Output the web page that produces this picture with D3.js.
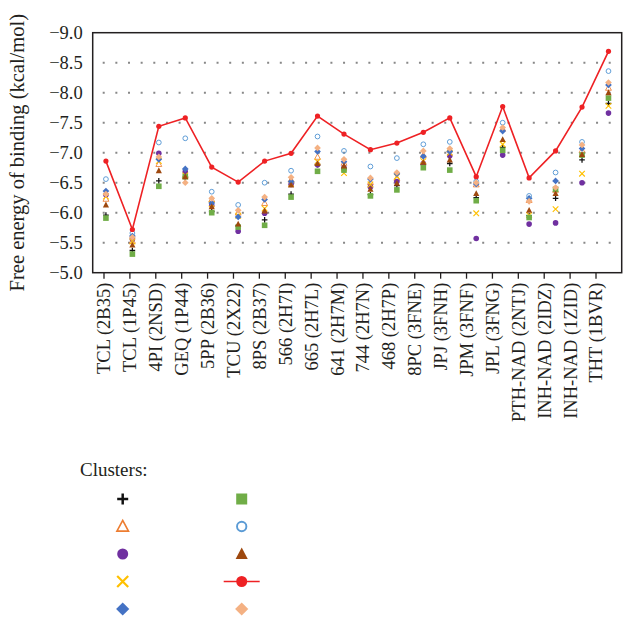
<!DOCTYPE html>
<html><head><meta charset="utf-8">
<script src="https://cdn.jsdelivr.net/npm/d3@7"></script>
<style>body{margin:0;background:#fff}svg{display:block}text{font-family:"Liberation Serif","DejaVu Serif",serif;fill:#231f20}</style>
</head><body><svg id="c" width="628" height="618"></svg>
<script>
const categories = ["TCL (2B35)","TCL (1P45)","4PI (2NSD)","GEQ (1P44)","5PP (2B36)","TCU (2X22)","8PS (2B37)","566 (2H7I)","665 (2H7L)","641 (2H7M)","744 (2H7N)","468 (2H7P)","8PC (3FNE)","JPJ (3FNH)","JPM (3FNF)","JPL (3FNG)","PTH-NAD (2NTJ)","INH-NAD (2IDZ)","INH-NAD (1ZID)","THT (1BVR)"];
const yTicks = [-5.0,-5.5,-6.0,-6.5,-7.0,-7.5,-8.0,-8.5,-9.0];
const plusSeries     = [-5.96,-5.37,-6.53,-6.58,-6.02,-5.78,-5.88,-6.31,-6.80,-6.73,-6.30,-6.45,-6.80,-6.82,-6.25,-7.09,-5.95,-6.24,-6.88,-7.82];
const openTriSeries  = [-6.23,-5.53,-6.81,-6.63,-6.22,-6.00,-6.16,-6.55,-6.93,-6.83,-6.51,-6.58,-6.96,-7.05,-6.47,-7.40,-6.21,-6.38,-7.04,-8.08];
const purpleSeries   = [-6.30,-5.56,-6.99,-6.68,-6.12,-5.69,-5.99,-6.47,-6.80,-6.75,-6.43,-6.52,-6.82,-6.95,-5.57,-6.96,-5.81,-5.83,-6.50,-7.66];
const crossSeries    = [-6.27,-5.52,-6.86,-6.62,-6.14,-5.95,-6.07,-6.48,-6.85,-6.66,-6.47,-6.60,-6.86,-7.00,-5.99,-7.14,-5.96,-6.06,-6.65,-7.78];
const blueDiaSeries  = [-6.36,-5.61,-6.89,-6.73,-6.16,-5.93,-6.22,-6.52,-7.02,-6.85,-6.56,-6.65,-6.94,-7.02,-6.48,-7.36,-6.24,-6.53,-7.07,-8.13];
const squareSeries   = [-5.91,-5.31,-6.44,-6.60,-6.00,-5.76,-5.79,-6.26,-6.69,-6.71,-6.28,-6.38,-6.75,-6.71,-6.20,-7.04,-5.92,-6.39,-6.96,-7.91];
const openCircSeries = [-6.56,-5.66,-7.17,-7.24,-6.35,-6.13,-6.50,-6.70,-7.27,-7.03,-6.77,-6.91,-7.14,-7.18,-6.52,-7.50,-6.28,-6.67,-7.18,-8.36];
const brownTriSeries = [-6.13,-5.46,-6.70,-6.60,-6.10,-5.81,-6.03,-6.46,-6.82,-6.78,-6.39,-6.49,-6.84,-6.88,-6.32,-7.22,-6.04,-6.32,-6.97,-8.00];
const redLineSeries  = [-6.86,-5.72,-7.44,-7.58,-6.76,-6.51,-6.86,-6.99,-7.61,-7.31,-7.05,-7.16,-7.34,-7.58,-6.60,-7.77,-6.58,-7.03,-7.76,-8.69];
const peachSeries    = [-6.31,-5.59,-6.93,-6.50,-6.24,-6.04,-6.26,-6.59,-7.08,-6.89,-6.58,-6.67,-7.03,-7.07,-6.50,-7.42,-6.19,-6.42,-7.13,-8.17];

const series = [
  {name:"plus", values:plusSeries, type:"plus", color:"#111"},
  {name:"openTri", values:openTriSeries, type:"openTri", color:"#ed7d31"},
  {name:"purple", values:purpleSeries, type:"circle", color:"#7030a0"},
  {name:"cross", values:crossSeries, type:"cross", color:"#ffc000"},
  {name:"blueDia", values:blueDiaSeries, type:"diamond", color:"#4472c4"},
  {name:"square", values:squareSeries, type:"square", color:"#70ad47"},
  {name:"openCirc", values:openCircSeries, type:"openCircle", color:"#5b9bd5"},
  {name:"brownTri", values:brownTriSeries, type:"triangle", color:"#9e480e"},
  {name:"red", values:redLineSeries, type:"line", color:"#ee2124"},
  {name:"peach", values:peachSeries, type:"diamond", color:"#f4b183"}
];

const svg = d3.select("#c");
const L = 92.7, R = 621.7, T = 32.7, B = 272.7;
const x = d3.scaleBand().domain(categories).range([L, R]);
const xAxisScale = d3.scaleBand().domain(categories).range([91.05, 608.95]);
const y = d3.scaleLinear().domain([-5, -9]).range([B, T]);
const cx = c => x(c) + x.bandwidth()/2;

// grid
svg.append("g").selectAll("line").data(yTicks.filter(v => v > -9 && v < -5)).join("line")
  .attr("x1", L + 10).attr("x2", R).attr("y1", d => y(d)).attr("y2", d => y(d))
  .attr("stroke", "#888").attr("stroke-width", 2).attr("stroke-dasharray", "2,10.65");

// y labels
const yAxis = d3.axisLeft(y).tickValues(yTicks).tickFormat(d3.format(".1f")).tickSize(0).tickPadding(10);
const gy = svg.append("g").attr("transform", `translate(${L},0)`).call(yAxis);
gy.select(".domain").remove();
gy.selectAll("text").style("font-size", "18.5px").style("font-family", "Liberation Serif, serif").attr("fill", "#231f20");

// x axis
const xAxis = d3.axisBottom(xAxisScale).tickSize(6).tickPadding(6);
const gx = svg.append("g").attr("transform", `translate(0,${B})`).call(xAxis);
gx.select(".domain").remove();
gx.selectAll(".tick line").attr("stroke", "#231f20").attr("stroke-width", 1.3);
gx.selectAll("text").style("font-size", "18.5px").style("font-family", "Liberation Serif, serif")
  .attr("fill", "#231f20").attr("text-anchor", "end").attr("transform", "rotate(-90)")
  .attr("x", -10).attr("y", 0).attr("dy", "0.35em");

// frame
svg.append("rect").attr("x", L).attr("y", T).attr("width", R - L).attr("height", B - T)
  .attr("fill", "none").attr("stroke", "#231f20").attr("stroke-width", 1.5);

// y title
svg.append("text").attr("transform", `translate(24,${(T+B)/2}) rotate(-90)`)
  .attr("text-anchor", "middle").style("font-size", "20.5px").text("Free energy of binding (kcal/mol)");

function drawMarker(g, type, color, s) {
  if (type === "plus") {
    g.append("path").attr("d", `M${-s},0H${s}M0,${-s}V${s}`).attr("stroke", color).attr("stroke-width", s*0.45);
  } else if (type === "cross") {
    g.append("path").attr("d", `M${-s},${-s}L${s},${s}M${-s},${s}L${s},${-s}`).attr("stroke", color).attr("stroke-width", s*0.4);
  } else if (type === "circle") {
    g.append("circle").attr("r", s).attr("fill", color);
  } else if (type === "openCircle") {
    g.append("circle").attr("r", s*0.85).attr("fill", "none").attr("stroke", color).attr("stroke-width", s*0.35);
  } else if (type === "square") {
    g.append("rect").attr("x", -s).attr("y", -s).attr("width", 2*s).attr("height", 2*s).attr("fill", color);
  } else if (type === "diamond") {
    g.append("path").attr("d", `M0,${-s*1.2}L${s*1.2},0L0,${s*1.2}L${-s*1.2},0Z`).attr("fill", color);
  } else if (type === "triangle") {
    g.append("path").attr("d", `M0,${-s*1.2}L${s*1.1},${s*0.9}L${-s*1.1},${s*0.9}Z`).attr("fill", color);
  } else if (type === "openTri") {
    g.append("path").attr("d", `M0,${-s*1.1}L${s*1.05},${s*0.85}L${-s*1.05},${s*0.85}Z`).attr("fill", "none").attr("stroke", color).attr("stroke-width", s*0.3);
  }
}

// series
series.forEach(sr => {
  const g = svg.append("g");
  if (sr.type === "line") {
    const line = d3.line().x((d, i) => cx(categories[i])).y(d => y(d));
    g.append("path").datum(sr.values).attr("d", line).attr("fill", "none").attr("stroke", sr.color).attr("stroke-width", 1.6);
    g.selectAll("circle").data(sr.values).join("circle")
      .attr("cx", (d, i) => cx(categories[i])).attr("cy", d => y(d)).attr("r", 2.6).attr("fill", sr.color);
  } else {
    sr.values.forEach((v, i) => {
      const m = g.append("g").attr("transform", `translate(${cx(categories[i])},${y(v)})`);
      drawMarker(m, sr.type, sr.color, 2.8);
    });
  }
});

// legend
svg.append("text").attr("x", 80).attr("y", 476).style("font-size", "19px").text("Clusters:");
const legX = [122.7, 241.7], legY0 = 499, legDy = 27.5;
series.forEach((sr, i) => {
  const col = Math.floor(i / 5), row = i % 5;
  const gx0 = legX[col], gy0 = legY0 + row * legDy;
  const g = svg.append("g").attr("transform", `translate(${gx0},${gy0})`);
  if (sr.type === "line") {
    g.append("line").attr("x1", -18).attr("x2", 18).attr("stroke", sr.color).attr("stroke-width", 1.6);
    g.append("circle").attr("r", 5.5).attr("fill", sr.color);
  } else {
    drawMarker(g, sr.type, sr.color, 5.5);
  }
});
</script></body></html>
